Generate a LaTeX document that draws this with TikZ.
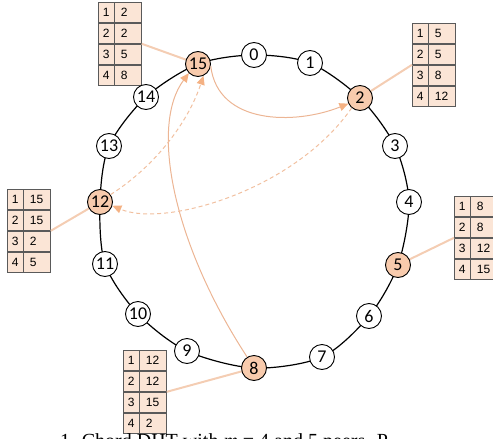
\documentclass[tikz,border=0pt]{standalone}
\usepackage{fontspec}
\setmainfont{Liberation Serif}
\newfontfamily\nodefont{Carlito}
\newfontfamily\tabfont{Liberation Sans}
\usetikzlibrary{arrows.meta}
\definecolor{hlfill}{HTML}{F8CBAD}
\definecolor{tabfill}{HTML}{FBE5D6}
\definecolor{tabline}{HTML}{5A5A5A}
\definecolor{arrowc}{HTML}{F4B183}
\definecolor{linkc}{HTML}{ECB594}
\definecolor{dashc}{HTML}{F1C0A0}
\definecolor{tabconn}{HTML}{F4CDB3}
\tikzset{
  ring/.style={draw=black, line width=1.2pt},
  dhtnode/.style={circle, draw=black, line width=0.9pt, fill=white, minimum size=25pt, inner sep=0pt,
    font=\nodefont\fontsize{18}{18}\selectfont},
  hlnode/.style={dhtnode, fill=hlfill},
  idxcell/.style={draw=tabline, fill=tabfill, line width=0.9pt, minimum width=15.5pt, minimum height=20pt,
    inner sep=0pt, font=\tabfont\fontsize{12}{12}\selectfont},
  valcell/.style={draw=tabline, fill=tabfill, line width=0.9pt, minimum height=20pt, text width=14.5pt,
    inner xsep=6pt, inner ysep=0pt, align=left, font=\tabfont\fontsize{12}{12}\selectfont},
  tabconnector/.style={draw=tabconn, line width=2pt},
  finger/.style={draw=linkc, line width=1pt, -{Triangle[length=9pt,width=8pt,color=arrowc]}},
  fingerdash/.style={finger, draw=dashc, dash pattern=on 4pt off 3pt},
  caption/.style={font=\fontsize{20}{20}\selectfont, anchor=base west, inner sep=0pt}
}
\newcommand\fingertable[7]{%
  \node[idxcell, anchor=north west] (#1-i1) at (#2,#3) {1};
  \node[valcell, anchor=north west] (#1-v1) at (#1-i1.north east) {#4};
  \node[idxcell, anchor=north] (#1-i2) at (#1-i1.south) {2};
  \node[valcell, anchor=north west] (#1-v2) at (#1-i2.north east) {#5};
  \node[idxcell, anchor=north] (#1-i3) at (#1-i2.south) {3};
  \node[valcell, anchor=north west] (#1-v3) at (#1-i3.north east) {#6};
  \node[idxcell, anchor=north] (#1-i4) at (#1-i3.south) {4};
  \node[valcell, anchor=north west] (#1-v4) at (#1-i4.north east) {#7};
}
\begin{document}
\begin{tikzpicture}[x=1pt, y=-1pt]
\useasboundingbox (0,0) rectangle (493,439);
\clip (0,0) rectangle (493,439);
% positions on the ring
\coordinate (p0) at (254,55);
\coordinate (p1) at (310,63);
\coordinate (p2) at (360,98);
\coordinate (p3) at (395,146);
\coordinate (p4) at (409,202);
\coordinate (p5) at (398,265);
\coordinate (p6) at (369,316);
\coordinate (p7) at (322,357);
\coordinate (p8) at (254,368);
\coordinate (p9) at (187,351);
\coordinate (p10) at (138,314);
\coordinate (p11) at (105,264);
\coordinate (p12) at (100,202);
\coordinate (p13) at (109,146);
\coordinate (p14) at (146,97);
\coordinate (p15) at (198,64);
\draw[ring] plot[smooth cycle] coordinates {(p0) (p1) (p2) (p3) (p4) (p5) (p6) (p7) (p8) (p9) (p10) (p11) (p12) (p13) (p14) (p15)};
% finger tables
\fingertable{t15}{98}{2}{2}{2}{5}{8}
\fingertable{t2}{412}{23}{5}{5}{8}{12}
\fingertable{t12}{7}{189}{15}{15}{2}{5}
\fingertable{t5}{454}{196}{8}{8}{12}{15}
\fingertable{t8}{123}{350}{12}{12}{15}{2}
% connectors table -> node
\draw[tabconnector] (t15-v2.south east) -- (p15);
\draw[tabconnector] (t2-i2.south west) -- (p2);
\draw[tabconnector] (t12-v2.south east) -- (p12);
\draw[tabconnector] (t5-i2.south west) -- (p5);
\draw[tabconnector] (t8-v2.south east) -- (p8);
% nodes
\node[dhtnode] (n0) at (p0) {0};
\node[dhtnode] (n1) at (p1) {1};
\node[hlnode] (n2) at (p2) {2};
\node[dhtnode] (n3) at (p3) {3};
\node[dhtnode] (n4) at (p4) {4};
\node[hlnode] (n5) at (p5) {5};
\node[dhtnode] (n6) at (p6) {6};
\node[dhtnode] (n7) at (p7) {7};
\node[hlnode] (n8) at (p8) {8};
\node[dhtnode] (n9) at (p9) {9};
\node[dhtnode] (n10) at (p10) {10};
\node[dhtnode] (n11) at (p11) {11};
\node[hlnode] (n12) at (p12) {12};
\node[dhtnode] (n13) at (p13) {13};
\node[dhtnode] (n14) at (p14) {14};
\node[hlnode] (n15) at (p15) {15};
% lookup arrows
\draw[finger] (n8.122) .. controls (172,242) and (150,125) .. (n15.-135);
\draw[finger] (n15.-10) .. controls (218,125) and (295,125) .. (n2.206);
\draw[fingerdash] (n12.35) .. controls (160,163) and (190,117) .. (n15.-65);
\draw[fingerdash] (n2.-130) .. controls (295,190) and (165,228) .. (n12.-17);
% caption (cut by the lower edge)
\node[caption] (cap) at (60,447.5) {1. Chord DHT with \textit{m} = 4 and 5 peers. P};
\end{tikzpicture}
\end{document}
